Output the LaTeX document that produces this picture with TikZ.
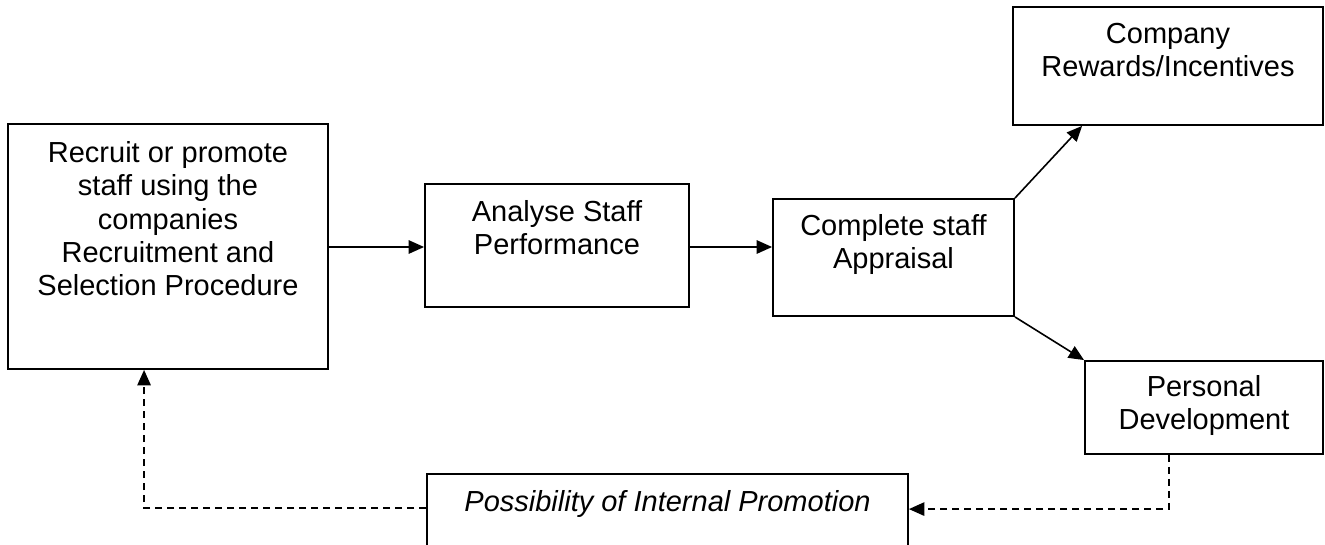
\documentclass[tikz,border=0pt]{standalone}
\usepackage{fontspec}
\setmainfont{Liberation Sans}
\usetikzlibrary{arrows.meta,calc}
\begin{document}
\begin{tikzpicture}[x=0.75pt,y=-0.75pt,
  box/.style={draw,line width=1.4pt,rectangle,inner sep=0pt},
  txt/.style={anchor=north,align=center,inner sep=0pt,font=\fontsize{21.75}{25}\selectfont},
  conn/.style={line width=1.2pt,-{Triangle[length=11.5pt,width=10pt]}},
  dconn/.style={conn,dash pattern=on 5.25pt off 3.75pt}]
\useasboundingbox (0,0) rectangle (1325,544);
\clip (0,0) rectangle (1325,544);
\fill[white] (0,0) rectangle (1325,544);

% boxes
\node[box,minimum width=240pt,minimum height=183.75pt] (recruit) at (168,246.5) {};
\node[box,minimum width=198pt,minimum height=92.25pt] (analyse) at (557,245.5) {};
\node[box,minimum width=180.75pt,minimum height=87.75pt] (complete) at (893.5,257.5) {};
\node[box,minimum width=232.5pt,minimum height=88.5pt] (company) at (1168,66) {};
\node[box,minimum width=178.5pt,minimum height=69.75pt] (personal) at (1204,407.5) {};
\node[box,minimum width=360.75pt,minimum height=67.5pt] (possib) at (667.5,519) {};

% texts
\node[txt] (recruitT) at ($(recruit.north)+(0,18)$) {Recruit or promote\\staff using the\\companies\\Recruitment and\\Selection Procedure};
\node[txt] (analyseT) at ($(analyse.north)+(0,17)$) {Analyse Staff\\Performance};
\node[txt] (completeT) at ($(complete.north)+(0,16)$) {Complete staff\\Appraisal};
\node[txt] (companyT) at ($(company.north)+(0,17)$) {Company\\Rewards/Incentives};
\node[txt] (personalT) at ($(personal.north)+(0,15)$) {Personal\\Development};
\node[txt,font=\fontsize{21.75}{25}\selectfont\itshape] (possibT) at ($(possib.north)+(0,17)$) {Possibility of Internal Promotion};

% connectors
\coordinate (a1) at ($(recruit.east)+(0,0.5)$);
\draw[conn] (a1) -- (a1 -| analyse.west);
\coordinate (a2) at ($(analyse.east)+(0,1.5)$);
\draw[conn] (a2) -- (a2 -| complete.west);
\coordinate (a3) at ($(company.south west)+(70,0)$);
\draw[conn] (complete.north east) -- (a3);
\draw[conn] (complete.south east) -- (personal.north west);
\coordinate (d1) at ($(personal.south west)+(85,0)$);
\coordinate (d2) at ($(possib.north east)+(0,36)$);
\draw[dconn] (d1) |- (d2);
\coordinate (d3) at ($(possib.north west)+(0,35)$);
\coordinate (d4) at ($(recruit.south west)+(137,0)$);
\draw[dconn] (d3) -| (d4);
\end{tikzpicture}
\end{document}
